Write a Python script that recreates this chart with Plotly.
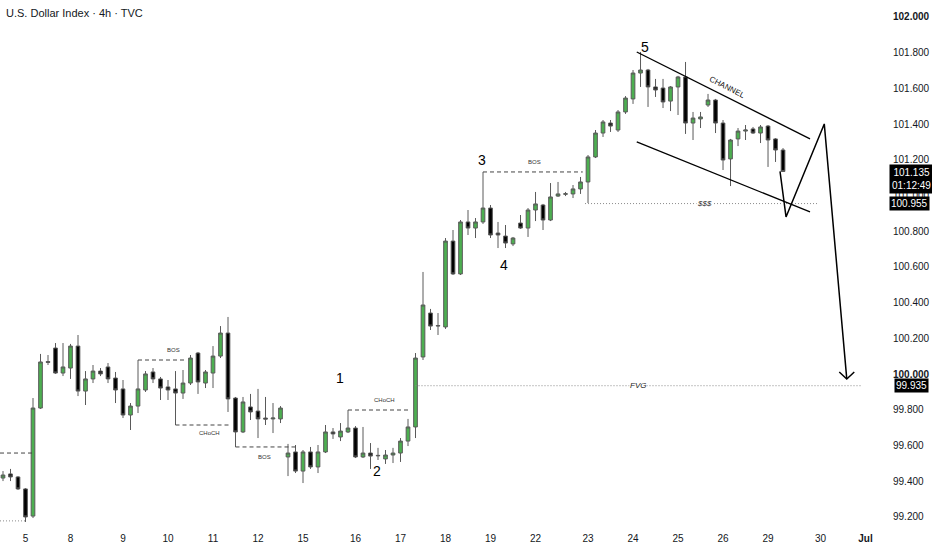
import plotly.graph_objects as go

# ---------------- data ----------------
open_ = [99.418, 99.441, 99.424, 99.357, 99.205, 99.810, 100.070, 100.146, 100.006, 100.034,
         100.157, 99.905, 99.973, 100.017, 100.040, 99.978, 99.917, 99.771, 99.821, 99.911,
         100.012, 99.973, 99.928, 99.917, 99.894, 99.950, 100.118, 99.950, 100.006, 100.101,
         100.230, 99.866, 99.676, 99.816, 99.793, 99.754, 99.749, 99.749, 99.536, 99.564,
         99.457, 99.564, 99.480, 99.564, 99.676, 99.648, 99.676, 99.698, 99.536, 99.558,
         99.545, 99.525, 99.547, 99.558, 99.625, 99.704, 100.096, 100.342, 100.272, 100.264,
         100.745, 100.561, 100.852, 100.818, 100.852, 100.930, 100.790, 100.773, 100.729, 100.846,
         100.818, 100.919, 100.947, 100.863, 100.997, 101.007, 101.009, 101.037, 101.076, 101.216,
         101.350, 101.406, 101.367, 101.468, 101.541, 101.686, 101.703, 101.608, 101.602, 101.529,
         101.608, 101.664, 101.406, 101.429, 101.507, 101.535, 101.406, 101.205, 101.317, 101.361,
         101.373, 101.350, 101.389, 101.317, 101.255]
high = [99.457, 99.469, 99.429, 99.362, 99.866, 100.113, 100.107, 100.174, 100.174, 100.169,
        100.219, 100.017, 100.051, 100.034, 100.062, 100.012, 99.967, 99.838, 100.079, 100.017,
        100.034, 99.984, 99.967, 100.017, 100.023, 100.107, 100.124, 100.023, 100.157, 100.269,
        100.320, 99.872, 99.872, 99.889, 99.917, 99.872, 99.838, 99.821, 99.609, 99.603,
        99.575, 99.592, 99.603, 99.715, 99.698, 99.726, 99.799, 99.709, 99.704, 99.614,
        99.587, 99.575, 99.587, 99.642, 99.749, 100.118, 100.572, 100.365, 100.342, 100.762,
        100.807, 100.863, 100.919, 100.874, 101.132, 100.947, 100.852, 100.835, 100.768, 100.891,
        100.930, 101.020, 100.953, 101.070, 101.076, 101.020, 101.059, 101.104, 101.227, 101.367,
        101.423, 101.423, 101.479, 101.557, 101.703, 101.804, 101.709, 101.653, 101.653, 101.613,
        101.670, 101.748, 101.468, 101.468, 101.569, 101.541, 101.423, 101.317, 101.378, 101.395,
        101.384, 101.395, 101.395, 101.322, 101.266]
low = [99.401, 99.401, 99.351, 99.172, 99.194, 99.805, 100.051, 100.001, 99.989, 99.973,
       99.877, 99.827, 99.950, 99.989, 99.950, 99.838, 99.754, 99.687, 99.782, 99.900,
       99.950, 99.855, 99.855, 99.715, 99.861, 99.939, 99.889, 99.922, 99.922, 100.090,
       99.788, 99.592, 99.670, 99.743, 99.642, 99.715, 99.670, 99.726, 99.429, 99.446,
       99.390, 99.469, 99.446, 99.558, 99.637, 99.625, 99.670, 99.530, 99.530, 99.469,
       99.519, 99.497, 99.502, 99.508, 99.597, 99.642, 100.079, 100.247, 100.219, 100.253,
       100.555, 100.555, 100.779, 100.762, 100.841, 100.762, 100.706, 100.706, 100.717, 100.813,
       100.768, 100.857, 100.807, 100.857, 100.992, 100.997, 100.986, 101.009, 100.958, 101.210,
       101.328, 101.356, 101.356, 101.457, 101.513, 101.608, 101.496, 101.552, 101.490, 101.473,
       101.451, 101.345, 101.311, 101.378, 101.496, 101.350, 101.143, 101.053, 101.277, 101.311,
       101.345, 101.294, 101.160, 101.188, 101.132]
close = [99.435, 99.424, 99.357, 99.200, 99.810, 100.068, 100.066, 100.006, 100.040, 100.157,
         99.905, 99.973, 100.017, 100.001, 99.973, 99.911, 99.771, 99.821, 99.917, 100.001,
         99.973, 99.922, 99.911, 99.894, 99.950, 100.090, 99.956, 100.012, 100.101, 100.230,
         99.861, 99.676, 99.844, 99.788, 99.749, 99.748, 99.754, 99.810, 99.558, 99.457,
         99.564, 99.480, 99.564, 99.676, 99.665, 99.681, 99.698, 99.536, 99.558, 99.541,
         99.543, 99.547, 99.558, 99.625, 99.704, 100.090, 100.387, 100.269, 100.270, 100.745,
         100.561, 100.852, 100.818, 100.852, 100.930, 100.779, 100.779, 100.734, 100.762, 100.818,
         100.919, 100.953, 100.863, 100.992, 101.009, 101.010, 101.037, 101.076, 101.216, 101.350,
         101.412, 101.389, 101.468, 101.546, 101.686, 101.703, 101.608, 101.591, 101.524, 101.608,
         101.664, 101.406, 101.434, 101.440, 101.535, 101.406, 101.199, 101.311, 101.361, 101.367,
         101.350, 101.384, 101.311, 101.255, 101.135]

day_tick_pos = [3, 9, 16, 22, 28, 34, 40, 47, 53, 59, 65, 71, 78, 84, 90, 96, 102, 109, 115]
day_tick_text = ["5", "8", "9", "10", "11", "12", "15", "16", "17", "18", "19",
                 "22", "23", "24", "25", "26", "29", "30", "<b>Jul</b>"]
price_ticks = [99.2, 99.4, 99.6, 99.8, 100.0, 100.2, 100.4, 100.6, 100.8,
               101.0, 101.2, 101.4, 101.6, 101.8, 102.0]
bold_price_ticks = [100.0, 102.0]

# structure levels: (x start, x end, price)
bos_choch_levels = [(-0.4, 3.9, 99.558), (18, 24.3, 100.079), (23, 30.3, 99.715),
                    (31, 39.2, 99.592), (46, 54, 99.799), (64, 77.3, 101.132)]
bos_choch_labels = [("BOS", 22.7, 100.135), ("CHoCH", 27.5, 99.670), ("BOS", 34.8, 99.536),
                    ("CHoCH", 50.8, 99.855), ("BOS", 70.8, 101.188)]
dotted_levels = [(-0.4, 3.0, 99.178), (77.6, 108.7, 100.955), (55, 114.5, 99.935)]
wave_labels = [("1", 44.9, 99.98), ("2", 49.9, 99.46), ("3", 63.9, 101.20),
               ("4", 66.8, 100.61), ("5", 85.6, 101.83)]
channel_upper = ([84.5, 107.6], [101.804, 101.317])
channel_lower = ([84.5, 107.6], [101.300, 100.908])
path_x = [103.6, 104.4, 109.5, 112.5]
path_y = [101.135, 100.880, 101.401, 99.973]
arrow_wing_x = [111.5, 112.5, 113.5]
arrow_wing_y = [100.012, 99.973, 100.012]

# ---------------- figure ----------------
xs = list(range(len(open_)))
fig = go.Figure()
fig.add_trace(go.Candlestick(
    x=xs, open=open_, high=high, low=low, close=close,
    increasing=dict(fillcolor="#4caf50", line=dict(color="#5a5a5a", width=1)),
    decreasing=dict(fillcolor="#000000", line=dict(color="#5a5a5a", width=1)),
    whiskerwidth=0, showlegend=False, hoverinfo="skip"))

shapes = []
for x0, x1, p in bos_choch_levels:
    shapes.append(dict(type="line", x0=x0, x1=x1, y0=p, y1=p, xref="x", yref="y",
                       line=dict(color="#444444", width=1, dash="4px,3px")))
for x0, x1, p in dotted_levels:
    shapes.append(dict(type="line", x0=x0, x1=x1, y0=p, y1=p, xref="x", yref="y",
                       line=dict(color="#8a8a8a", width=1, dash="1px,2px")))
for cx, cy in (channel_upper, channel_lower):
    shapes.append(dict(type="line", x0=cx[0], x1=cx[1], y0=cy[0], y1=cy[1],
                       line=dict(color="#000000", width=1.3)))
fig.update_layout(shapes=shapes)

fig.add_trace(go.Scatter(x=path_x, y=path_y, mode="lines",
                         line=dict(color="#000000", width=1.5), showlegend=False, hoverinfo="skip"))
fig.add_trace(go.Scatter(x=arrow_wing_x, y=arrow_wing_y, mode="lines",
                         line=dict(color="#000000", width=1.5), showlegend=False, hoverinfo="skip"))

ann = []
for t, x, y in bos_choch_labels:
    ann.append(dict(x=x, y=y, text=t, showarrow=False, font=dict(size=6, color="#333333",
                    family="Liberation Sans")))
for t, x, y in wave_labels:
    ann.append(dict(x=x, y=y, text=t, showarrow=False, font=dict(size=14, color="#000000",
                    family="Liberation Sans")))
ann.append(dict(x=93.5, y=100.955, text="<i>$$$</i>", showarrow=False, bgcolor="#ffffff",
                borderpad=0, font=dict(size=8, color="#222222", family="Liberation Sans")))
ann.append(dict(x=84.7, y=99.935, text="<i>FVG</i>", showarrow=False, bgcolor="#ffffff",
                borderpad=0, font=dict(size=8, color="#222222", family="Liberation Sans")))
ann.append(dict(x=96.6, y=101.607, text="CHANNEL", showarrow=False, textangle=27,
                font=dict(size=8, color="#111111", family="Liberation Sans")))
ann.append(dict(xref="paper", yref="paper", x=0.005, y=0.976, xanchor="left", yanchor="middle",
                text="U.S. Dollar Index · 4h · TVC", showarrow=False,
                font=dict(size=11, color="#131722", family="Liberation Sans")))
# price tags on the axis
ann.append(dict(xref="paper", yref="y", x=1.0103, y=101.135, xanchor="left", yanchor="top",
                yshift=7, text="101.135<br>01:12:49", showarrow=False, bgcolor="#000000",
                borderpad=2, align="center",
                font=dict(size=10, color="#ffffff", family="Liberation Sans")))
ann.append(dict(xref="paper", yref="y", x=1.0103, y=100.955, xanchor="left", yanchor="middle",
                text="100.955", showarrow=False, bgcolor="#000000", borderpad=1,
                font=dict(size=10, color="#ffffff", family="Liberation Sans")))
ann.append(dict(xref="paper", yref="y", x=1.0158, y=99.935, xanchor="left", yanchor="middle",
                text="99.935", showarrow=False, bgcolor="#000000", borderpad=1,
                font=dict(size=10, color="#ffffff", family="Liberation Sans")))
fig.update_layout(annotations=ann)

price_text = [(f"<b>{v:.3f}</b>" if v in bold_price_ticks else f"{v:.3f}") for v in price_ticks]

fig.update_layout(
    width=932, height=550,
    margin=dict(l=0, r=52, t=0, b=25),
    paper_bgcolor="#ffffff", plot_bgcolor="#ffffff",
    showlegend=False,
    xaxis=dict(range=[-0.4, 116.93], rangeslider=dict(visible=False), showgrid=False,
               zeroline=False, showline=False, tickmode="array", tickvals=day_tick_pos,
               ticktext=day_tick_text, ticks="", ticklabelstandoff=6,
               tickfont=dict(size=10, color="#131722", family="Liberation Sans")),
    yaxis=dict(range=[99.155, 102.095], side="right", showgrid=False, zeroline=False,
               showline=False, tickmode="array", tickvals=price_ticks,
               ticktext=price_text, ticks="", ticklabelstandoff=12,
               tickfont=dict(size=10, color="#131722", family="Liberation Sans")),
)

fig.write_html("out.html", config={"displayModeBar": False},
               post_script="document.body.style.margin='0px';")
